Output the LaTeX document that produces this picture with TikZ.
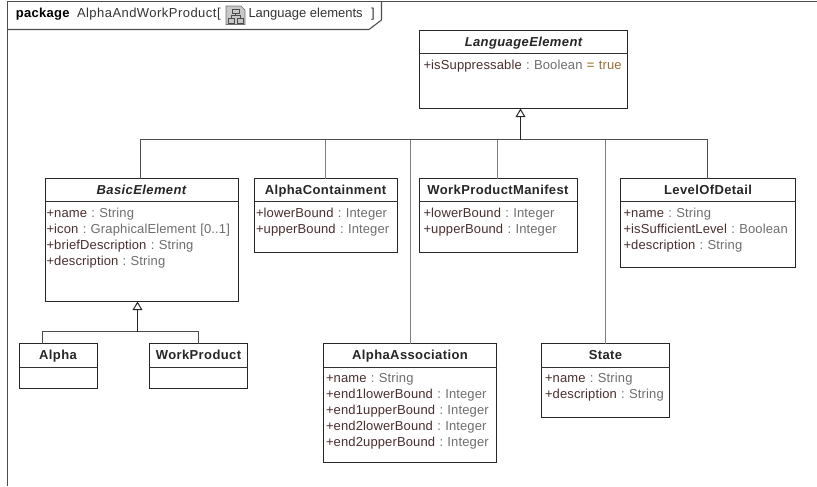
\documentclass[tikz,border=0pt]{standalone}
\usepackage{fontspec}
\setmainfont{Liberation Sans}
\usetikzlibrary{arrows.meta}
\definecolor{attr}{HTML}{4A2F2F}
\definecolor{typ}{HTML}{6E6E6E}
\definecolor{eqc}{HTML}{8A6A1E}
\definecolor{truec}{HTML}{9A6E3A}
\newcommand{\at}[2]{\textcolor{attr}{+#1}\textcolor{typ}{\ :\ #2}}
\newcommand{\basefont}{\fontsize{9.75}{12}\selectfont\frenchspacing}
\tikzset{
  x=0.75pt,y=-0.75pt,
  every node/.style={font=\basefont,inner sep=0pt,outer sep=0pt},
  umlbox/.style 2 args={draw=black!85,line width=0.75pt,fill=white,anchor=north west,minimum width=0.75pt*#1,minimum height=0.75pt*#2},
  divider/.style={draw=black!80,line width=0.75pt},
  title/.style={font=\basefont\bfseries\addfontfeature{LetterSpace=3},text=black!85,anchor=base},
  absttitle/.style={font=\basefont\bfseries\itshape\addfontfeature{LetterSpace=3},text=black!85,anchor=base},
  attrs/.style={anchor=north west,align=left,font=\basefont\addfontfeature{LetterSpace=1}},
  head/.style={anchor=base west,text=black!80,font=\basefont\addfontfeature{LetterSpace=3.5}},
  linkmain/.style={draw=black!70,line width=0.75pt},
  linkdrop/.style={draw=black!50,line width=0.75pt},
  gen/.style={draw=black!85,line width=0.75pt,-{Triangle[open,fill=white,length=6.5pt,width=7.5pt]}},
  frameline/.style={draw=black!70,line width=0.8pt}
}
\begin{document}
\begin{tikzpicture}
\useasboundingbox (0,0) rectangle (817,486);
% frame
\coordinate (fTL) at (7.5,1.5);
\coordinate (fTR) at (817,1.5);
\coordinate (fBL) at (7.5,486);
\coordinate (tabA) at (7.5,29.5);
\coordinate (tabB) at (369,29.5);
\coordinate (tabC) at (381.5,20);
\coordinate (tabD) at (381.5,1.5);
\draw[frameline] (fBL) -- (fTL) -- (fTR);
\draw[frameline] (tabA) -- (tabB) -- (tabC) -- (tabD);
\node[head,text=black,font=\basefont\bfseries\addfontfeature{LetterSpace=2}] (pk) at (16,17) {package};
\node[head] (pkname) at (77,17) {AlphaAndWorkProduct};
\node[head] (pkopen) at (217,17) {[};
\node[head,font=\basefont] (pklang) at (248.5,17) {Language elements};
\node[head] (pkend) at (371,17) {]};
% icon
\draw[draw=black!55,fill=black!22,line width=0.5pt] (226,6) -- (241,6) -- (245,10) -- (245,24.5) -- (226,24.5) -- cycle;
\draw[draw=black!70,line width=0.5pt] (232,9) rectangle (239,13) (228,18) rectangle (234,23) (237,18) rectangle (243,23)
  (235.5,13) -- (235.5,15.5) (231,18) -- (231,15.5) -- (240,15.5) -- (240,18);
% boxes
\node[umlbox={208}{78}] (lang) at (419.5,30.5) {};
\node[umlbox={193}{123}] (basic) at (45.5,178.5) {};
\node[umlbox={143}{74}] (contain) at (254.5,178.5) {};
\node[umlbox={158}{74}] (manifest) at (419.5,178.5) {};
\node[umlbox={175}{89}] (lod) at (620.5,178.5) {};
\node[umlbox={78}{45}] (alpha) at (19.5,343.5) {};
\node[umlbox={98}{45}] (wp) at (149.5,343.5) {};
\node[umlbox={173}{119}] (assoc) at (323.5,343.5) {};
\node[umlbox={128}{74}] (state) at (541.5,343.5) {};
% dividers
\draw[divider] (lang.west |- 0,53.5) -- (lang.east |- 0,53.5);
\draw[divider] (basic.west |- 0,201.5) -- (basic.east |- 0,201.5);
\draw[divider] (contain.west |- 0,201.5) -- (contain.east |- 0,201.5);
\draw[divider] (manifest.west |- 0,201.5) -- (manifest.east |- 0,201.5);
\draw[divider] (lod.west |- 0,201.5) -- (lod.east |- 0,201.5);
\draw[divider] (alpha.west |- 0,367.5) -- (alpha.east |- 0,367.5);
\draw[divider] (wp.west |- 0,367.5) -- (wp.east |- 0,367.5);
\draw[divider] (assoc.west |- 0,367.5) -- (assoc.east |- 0,367.5);
\draw[divider] (state.west |- 0,367.5) -- (state.east |- 0,367.5);
% titles
\node[absttitle] (langT) at (523.5,46) {LanguageElement};
\node[absttitle] (basicT) at (141.5,194) {BasicElement};
\node[title] (containT) at (325.5,194) {AlphaContainment};
\node[title] (manifestT) at (498,194) {WorkProductManifest};
\node[title] (lodT) at (708,194) {LevelOfDetail};
\node[title] (alphaT) at (58,359) {Alpha};
\node[title] (wpT) at (198.5,359) {WorkProduct};
\node[title] (assocT) at (410,359) {AlphaAssociation};
\node[title] (stateT) at (605.5,359) {State};
% attributes
\node[attrs,text width=200pt] (langA) at (423.5,60.5) {\textcolor{attr}{+isSuppressable}\textcolor{typ}{\ :\ Boolean\ }\textcolor{eqc}{=}\ \textcolor{truec}{true}};
\node[attrs,text width=140pt] (basicA) at (46.5,208) {\at{name}{String}\\\at{icon}{GraphicalElement [0..1]}\\\at{briefDescription}{String}\\\at{description}{String}};
\node[attrs,text width=100pt] (containA) at (256,208) {\at{lowerBound}{Integer}\\\at{upperBound}{Integer}};
\node[attrs,text width=100pt] (manifestA) at (423.5,208) {\at{lowerBound}{Integer}\\\at{upperBound}{Integer}};
\node[attrs,text width=125pt] (lodA) at (623.5,208) {\at{name}{String}\\\at{isSufficientLevel}{Boolean}\\\at{description}{String}};
\node[attrs,text width=125pt] (assocA) at (326,373.5) {\at{name}{String}\\\at{end1lowerBound}{Integer}\\\at{end1upperBound}{Integer}\\\at{end2lowerBound}{Integer}\\\at{end2upperBound}{Integer}};
\node[attrs,text width=90pt] (stateA) at (545,373.5) {\at{name}{String}\\\at{description}{String}};
% connectors
\coordinate (dropB) at (140.5,139.5);
\coordinate (dropC) at (325.5,139.5);
\coordinate (dropA) at (410.5,139.5);
\coordinate (dropM) at (497.5,139.5);
\coordinate (dropS) at (605.5,139.5);
\coordinate (dropL) at (707.5,139.5);
\coordinate (trunk) at (520.5,139.5);
\coordinate (bus2L) at (42.5,331.5);
\coordinate (bus2R) at (198.5,331.5);
\coordinate (trunk2) at (137.5,331.5);
\draw[linkmain] (basic.north -| dropB) -- (dropB) -- (dropL) -- (lod.north -| dropL);
\draw[linkdrop] (contain.north -| dropC) -- (dropC);
\draw[linkdrop] (assoc.north -| dropA) -- (dropA);
\draw[linkdrop] (manifest.north -| dropM) -- (dropM);
\draw[linkdrop] (state.north -| dropS) -- (dropS);
\draw[gen] (trunk) -- (trunk |- lang.south);
\draw[linkmain] (alpha.north -| bus2L) -- (bus2L) -- (bus2R) -- (wp.north -| bus2R);
\draw[gen] (trunk2) -- (trunk2 |- basic.south);
\end{tikzpicture}
\end{document}
